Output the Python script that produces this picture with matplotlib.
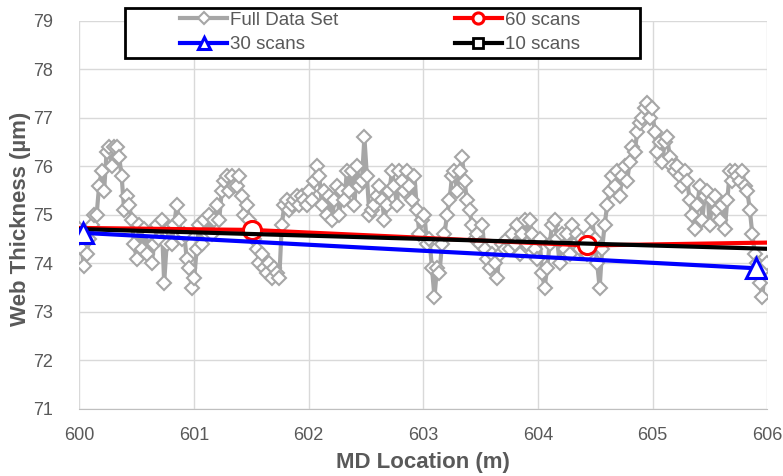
import numpy as np
import matplotlib.pyplot as plt
from matplotlib.patches import Rectangle

plt.rcParams['font.family'] = ['Liberation Sans', 'DejaVu Sans']

# web thickness along the machine direction, full data set (um)
full_vals = [
    74.7, 74.3, 73.95, 74.2, 74.5, 74.8, 75.0, 75.0, 75.6, 75.9, 75.5,
    76.3, 76.4, 76.0, 76.4, 76.4, 76.2, 75.8, 75.1, 75.4, 75.2, 74.9, 74.4,
    74.1, 74.8, 74.3, 74.7, 74.2, 74.6, 74.0, 74.4, 74.8, 74.5, 74.9, 73.6,
    74.4, 74.7, 74.4, 74.8, 75.2, 74.9, 74.5, 74.6, 74.1, 73.9, 73.5, 73.7,
    74.3, 74.8, 74.4, 74.9, 74.6, 75.0, 74.6, 74.9, 75.2, 74.9, 75.5, 75.7,
    75.8, 75.5, 75.8, 75.6, 75.6, 75.8, 75.4, 75.0, 75.2, 74.9, 74.7, 74.5,
    74.3, 74.0, 74.2, 73.9, 73.8, 74.0, 73.7, 73.9, 73.8, 73.7, 74.8, 75.2,
    75.3, 75.1, 75.2, 75.3, 75.4, 75.2, 75.4, 75.3, 75.2, 75.5, 75.3, 75.7,
    76.0, 75.8, 75.2, 75.5, 75.0, 75.4, 74.9, 75.3, 75.6, 75.0, 75.5, 75.3,
    75.9, 75.5, 75.9, 75.2, 76.0, 75.6, 75.7, 76.6, 75.8, 75.0, 75.1, 75.2,
    75.4, 75.6, 75.3, 74.9, 75.2, 75.5, 75.9, 75.6, 75.2, 75.9, 75.7, 75.5,
    75.9, 75.6, 75.3, 75.8, 75.1, 74.6, 74.9, 75.0, 74.4, 74.5, 73.9, 73.3,
    73.9, 73.8, 74.4, 74.6, 75.0, 75.3, 75.8, 75.9, 75.5, 75.9, 76.2, 75.7,
    75.3, 75.1, 74.8, 74.5, 74.6, 74.4, 74.8, 74.3, 74.1, 73.9, 74.2, 74.0,
    73.7, 74.2, 74.4, 74.3, 74.5, 74.3, 74.6, 74.4, 74.8, 74.2, 74.6, 74.9,
    74.4, 74.9, 74.6, 74.3, 74.1, 74.5, 73.8, 73.5, 73.9, 74.4, 74.8, 74.9,
    74.5, 74.0, 74.6, 74.3, 74.6, 74.2, 74.8, 74.4, 74.6, 74.3, 74.5, 74.4,
    74.2, 74.6, 74.9, 74.5, 74.0, 73.5, 74.3, 74.8, 75.2, 75.5, 75.8, 75.6,
    75.9, 75.4, 75.8, 76.0, 75.7, 76.1, 76.4, 76.3, 76.7, 76.9, 77.0, 77.2,
    77.3, 77.0, 77.2, 76.7, 76.3, 76.5, 76.1, 76.5, 76.6, 76.2, 76.0, 75.9,
    76.0, 75.8, 75.6, 75.9, 75.7, 75.3, 75.0, 74.7, 75.2, 75.6, 74.9, 75.4,
    75.5, 74.8, 75.3, 75.4, 75.1, 74.9, 75.2, 74.7, 75.3, 75.9, 75.7, 75.9,
    75.8, 75.7, 75.9, 75.6, 75.5, 75.1, 74.6, 74.2, 74.0, 73.6, 73.3, 73.9,
    74.0,
]
full_x = np.linspace(600.0, 606.0, len(full_vals))

# averaged series
x_60 = [598.59, 601.51, 604.43, 607.35]
y_60 = [74.77, 74.69, 74.37, 74.48]
x_30 = [600.03, 605.90]
y_30 = [74.63, 73.90]
x_10 = [598.5, 607.5]
y_10 = [74.81, 74.20]

txt = '#595959'

fig = plt.figure(figsize=(7.83, 4.76), dpi=100)
ax = fig.add_axes([0.101, 0.141, 0.879, 0.815])

l_full, = ax.plot(full_x, full_vals, color='#A6A6A6', lw=3, marker='D',
                  ms=7, mfc='white', mec='#A6A6A6', mew=1.5, zorder=2)
l_60, = ax.plot(x_60, y_60, color='#FF0000', lw=3, marker='o', ms=13,
                mfc='white', mec='#FF0000', mew=2.2, zorder=3)
l_30, = ax.plot(x_30, y_30, color='#0000FF', lw=3, marker='^', ms=14,
                mfc='white', mec='#0000FF', mew=2.2, zorder=4)
l_10, = ax.plot(x_10, y_10, color='black', lw=3, marker='s', ms=9,
                mfc='white', mec='black', mew=2, zorder=3)

ax.set_xlim(600, 606)
ax.set_ylim(71, 79)
ax.set_xticks(range(600, 607))
ax.set_yticks(range(71, 80))
ax.grid(True, color='#D9D9D9', lw=1)
ax.set_axisbelow(True)
for s in ['top', 'right', 'left']:
    ax.spines[s].set_visible(False)
ax.spines['bottom'].set_color('#BFBFBF')
ax.tick_params(length=0, labelsize=13, colors=txt)
ax.tick_params(axis='x', pad=13)
ax.tick_params(axis='y', pad=19)

ax.set_xlabel('MD Location (m)', fontsize=16, fontweight='bold', color=txt)
ax.set_ylabel('Web Thickness (\u00b5m)', fontsize=16, fontweight='bold', color=txt)
ax.xaxis.set_label_coords(0.5, -0.11)
ax.yaxis.set_label_coords(-0.07, 0.49)

# legend box with two single-column legends inside
fig.add_artist(Rectangle((0.1596, 0.8782), 0.6577, 0.105, transform=fig.transFigure,
                         facecolor='white', edgecolor='black', lw=2, zorder=5))

leg_kw = dict(loc='upper left', fontsize=13.5, labelcolor=txt, frameon=False,
              handlelength=2.5, handletextpad=0.15, borderpad=0,
              labelspacing=0.4, borderaxespad=0)
leg1 = fig.legend([l_full, l_30], ['Full Data Set', '30 scans'],
                  bbox_to_anchor=(0.23, 0.976), **leg_kw)
leg2 = fig.legend([l_60, l_10], ['60 scans', '10 scans'],
                  bbox_to_anchor=(0.581, 0.976), **leg_kw)
for lg, sizes in [(leg1, [6, 8]), (leg2, [8, 7])]:
    lg.set_zorder(6)
    for h, s in zip(lg.legend_handles, sizes):
        h.set_markersize(s)

fig.savefig('out.png', dpi=100)
